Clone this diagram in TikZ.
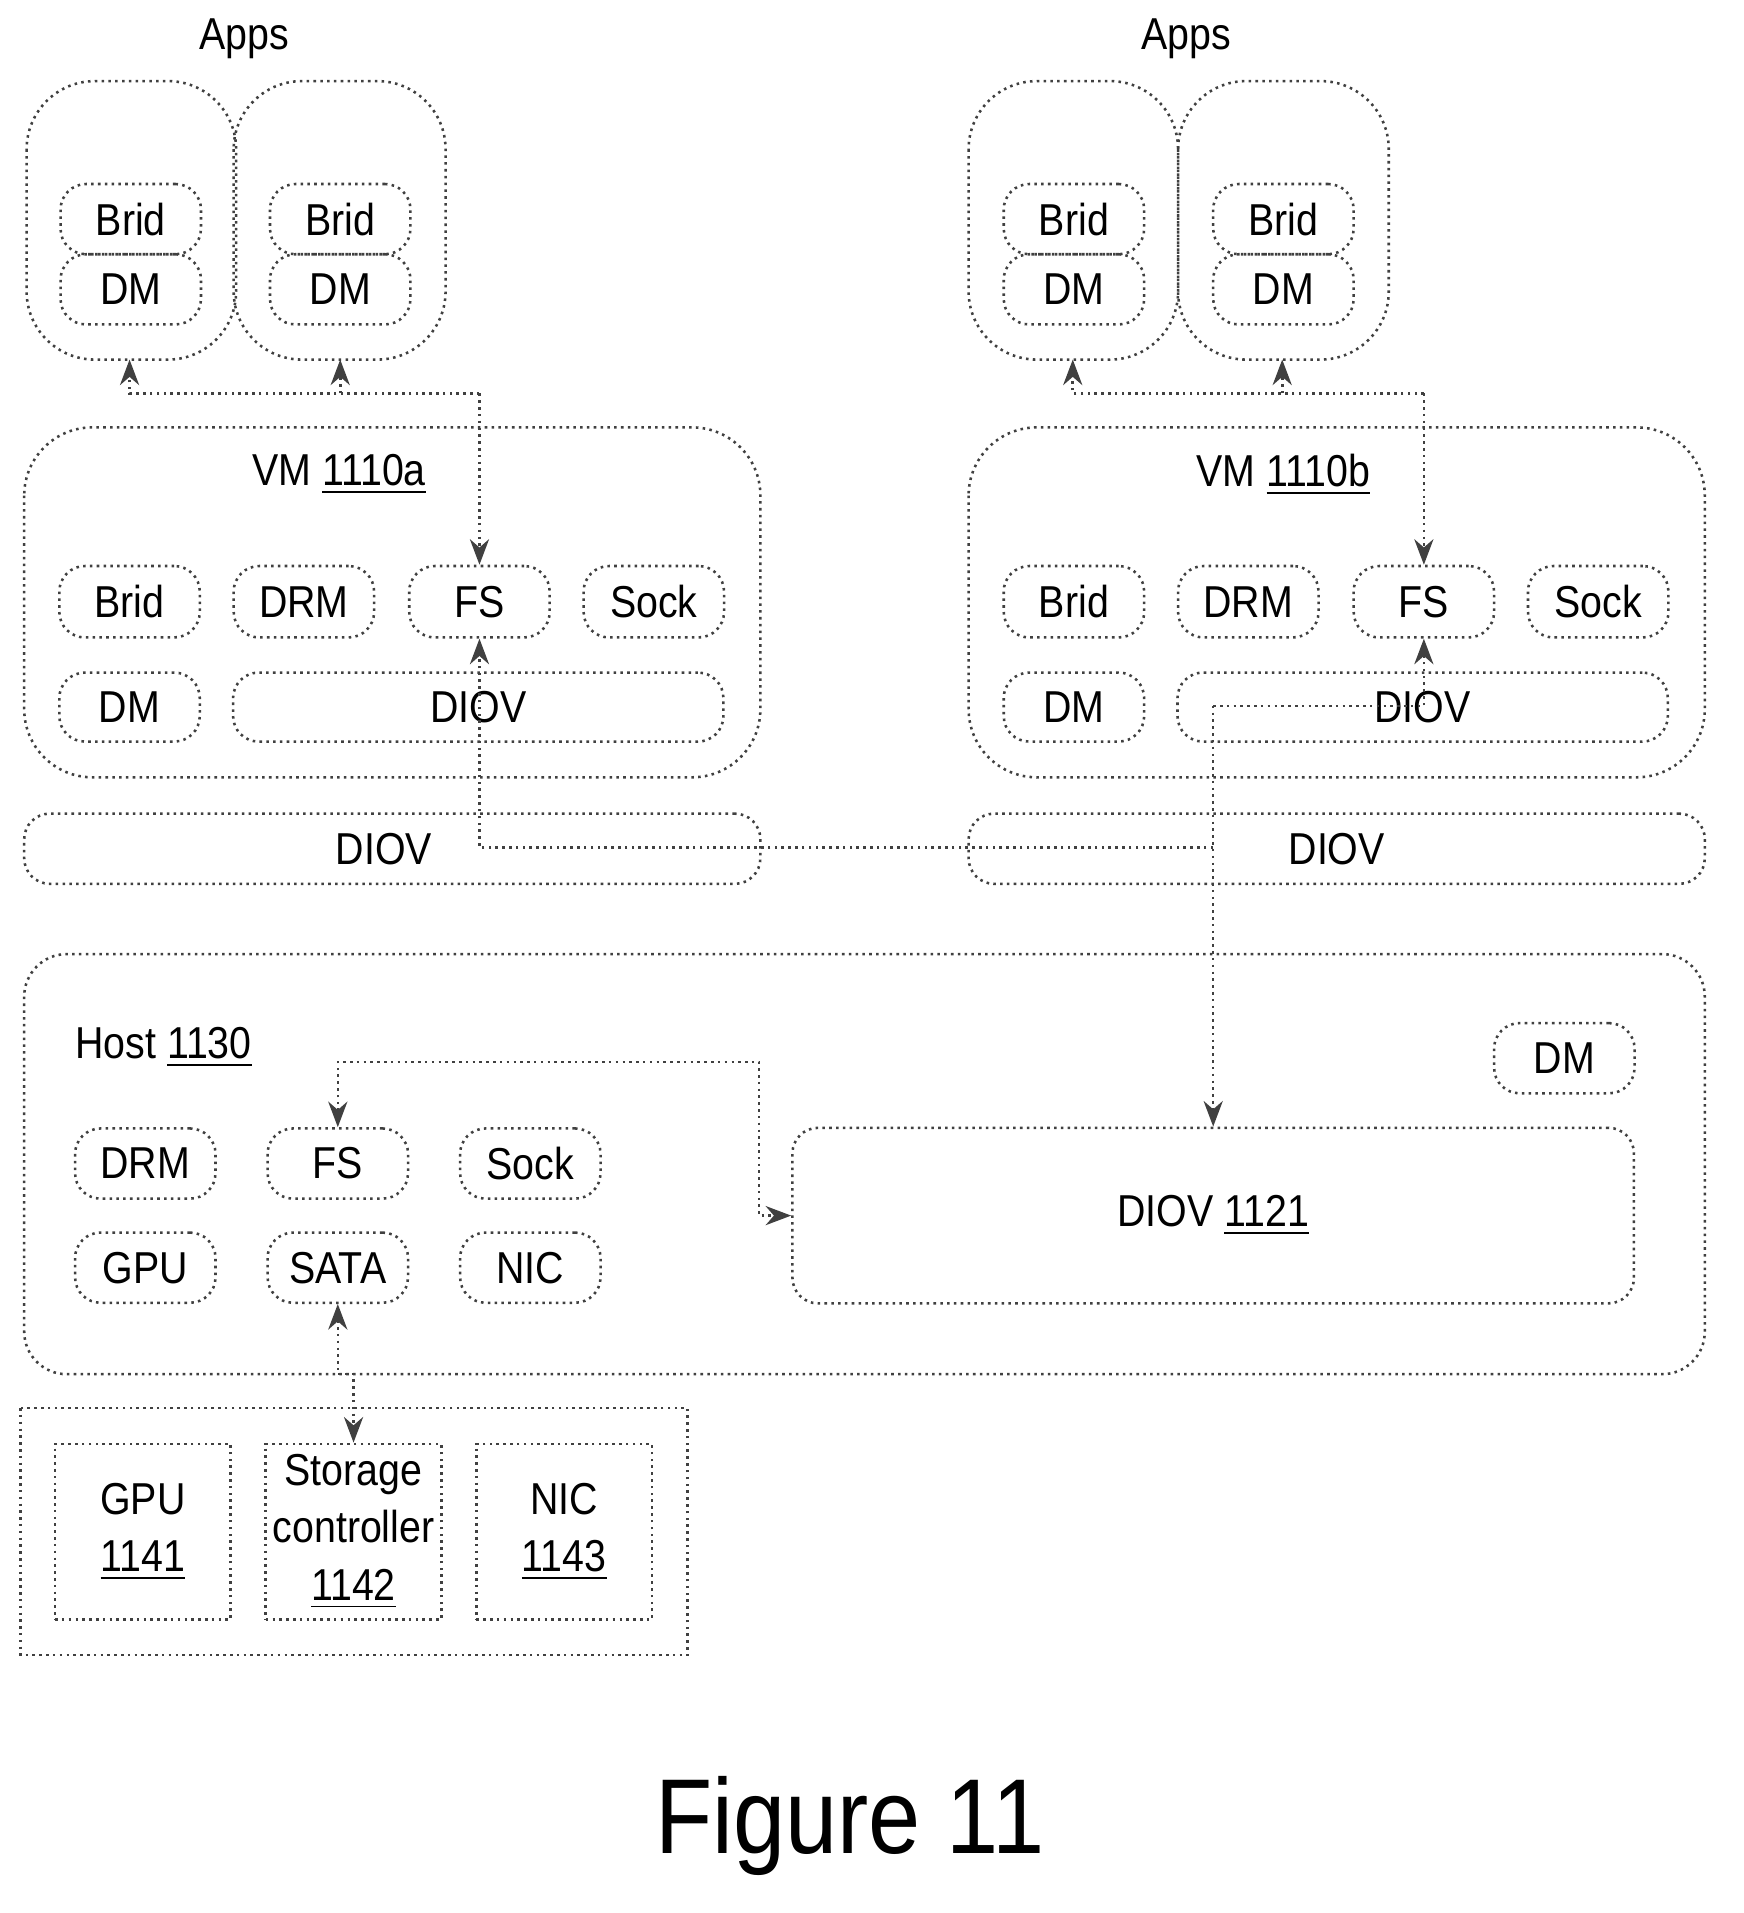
\documentclass[tikz,border=0pt]{standalone}
\usepackage{fontspec}
\setmainfont{Liberation Sans}[FakeStretch=0.88]
\usetikzlibrary{arrows.meta}
\tikzset{
  ln/.style={draw=black!75, densely dotted, line width=0.6pt},
  box/.style={ln, rounded corners=6pt, inner sep=0pt, font=\fontsize{10.5}{13}\selectfont},
  big/.style={ln, rounded corners=16pt},
  hw/.style={ln, inner sep=0pt, align=center, font=\fontsize{10.5}{13.5}\selectfont},
  arr/.style={ln, -{Stealth[length=6pt]}},
  darr/.style={ln, {Stealth[length=6pt]}-{Stealth[length=6pt]}},
  lbl/.style={font=\fontsize{10.5}{13}\selectfont}
}
\newcommand{\bx}[6]{\node[box, minimum width=#4*0.01cm, minimum height=#5*0.01cm] (#1) at (#2,#3) {#6};}
\begin{document}
\begin{tikzpicture}[x=0.01cm, y=-0.01cm]
\useasboundingbox (0,0) rectangle (1440,1580);

%Apps of both VMs
\node[lbl] at (202,32) {Apps};
\node[lbl] at (980,32) {Apps};
\draw[big] (22,67) rectangle (195,297);
\draw[big] (193,67) rectangle (368,297);
\draw[big] (800,67) rectangle (973,297);
\draw[big] (973,67) rectangle (1147,297);
\coordinate (aapp1) at (107,297);
\coordinate (aapp2) at (281,297);
\coordinate (bapp1) at (886,297);
\coordinate (bapp2) at (1059,297);
\bx{abrid1}{108}{181}{116}{58}{Brid}
\bx{adm1}{108}{239}{116}{58}{DM}
\bx{abrid2}{281}{181}{116}{58}{Brid}
\bx{adm2}{281}{239}{116}{58}{DM}
\bx{bbrid1}{887}{181}{116}{58}{Brid}
\bx{bdm1}{887}{239}{116}{58}{DM}
\bx{bbrid2}{1060}{181}{116}{58}{Brid}
\bx{bdm2}{1060}{239}{116}{58}{DM}

%VM 1110a
\draw[big] (20,353) rectangle (628,642);
\node[lbl] at (280,392) {VM \underline{1110a}};
\bx{abrid}{107}{497}{116}{59}{Brid}
\bx{adrm}{251}{497}{116}{59}{DRM}
\bx{afs}{396}{497}{116}{59}{FS}
\bx{asock}{540}{497}{116}{59}{Sock}
\bx{adm}{107}{584}{116}{57}{DM}
\bx{adiov}{395}{584}{405}{57}{DIOV}

%VM 1110b
\draw[big] (800,353) rectangle (1408,642);
\node[lbl] at (1060,392) {VM \underline{1110b}};
\bx{bbrid}{887}{497}{116}{59}{Brid}
\bx{bdrm}{1031}{497}{116}{59}{DRM}
\bx{bfs}{1176}{497}{116}{59}{FS}
\bx{bsock}{1320}{497}{116}{59}{Sock}
\bx{bdm}{887}{584}{116}{57}{DM}
\bx{bdiov}{1175}{584}{405}{57}{DIOV}

%DIOV bars
\bx{adiovbar}{324}{701}{608}{58}{\hspace*{-4pt}DIOV}
\bx{bdiovbar}{1104}{701}{608}{58}{DIOV}

%Host 1130
\draw[ln, rounded corners=10pt] (20,788) rectangle (1408,1135);
\node[lbl] at (135,865) {Host \underline{1130}};
\bx{hdm}{1292}{874}{116}{58}{DM}
\bx{hdrm}{120}{961}{116}{58}{DRM}
\bx{hfs}{279}{961}{116}{58}{FS}
\bx{hsock}{438}{961}{116}{58}{Sock}
\bx{hgpu}{120}{1047}{116}{58}{GPU}
\bx{hsata}{279}{1047}{116}{58}{SATA}
\bx{hnic}{438}{1047}{116}{58}{NIC}
\bx{hdiov}{1002}{1004}{695}{145}{DIOV \underline{1121}}

%Hardware
\draw[ln] (17,1163) rectangle (568,1367);
\node[hw, minimum width=145*0.01cm, minimum height=145*0.01cm] (gpu) at (118,1265) {GPU\\\underline{1141}};
\node[hw, minimum width=145*0.01cm, minimum height=145*0.01cm] (stor) at (292,1265) {Storage\\controller\\\underline{1142}};
\node[hw, minimum width=145*0.01cm, minimum height=145*0.01cm] (nic) at (466,1265) {NIC\\\underline{1143}};

%Connectors
\coordinate (aj) at (396,325);
\draw[arr] (aj) -- (afs.north);
\draw[arr] (aj) -| (aapp1);
\draw[arr] (281,325) -- (aapp2);
\coordinate (bj) at (1176,325);
\draw[arr] (bj) -- (bfs.north);
\draw[arr] (bj) -| (bapp1);
\draw[arr] (1059,325) -- (bapp2);

\coordinate (cross) at (1002,583);
\draw[arr] (1002,700) -| (afs.south);
\draw[arr] (cross) -| (bfs.south);
\draw[arr] (cross) -- (cross |- hdiov.north);

\draw[darr] (hfs.north) |- (627,877) |- (hdiov.west);
\draw[darr] (hsata.south) |- (292,1135) -- (stor.north);

\node[font=\fontsize{25}{30}\selectfont] (fig) at (702,1508) {Figure 11};
\end{tikzpicture}
\end{document}
